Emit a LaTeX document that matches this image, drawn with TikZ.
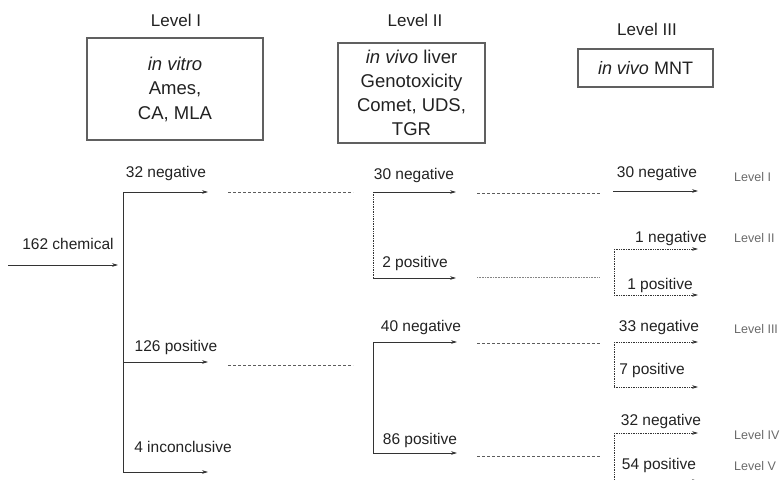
\documentclass[tikz,border=0pt]{standalone}
\usepackage{fontspec}
\setmainfont{Liberation Sans}
\usetikzlibrary{arrows.meta}
\definecolor{ink}{HTML}{222222}
\definecolor{lineink}{HTML}{333333}
\definecolor{soft}{HTML}{6A6A6A}
\tikzset{
  lbl/.style={inner sep=0pt, text=ink, font=\fontsize{15.5}{18}\selectfont},
  hdr/.style={inner sep=0pt, text=ink, font=\fontsize{17}{20}\selectfont},
  lvl/.style={inner sep=0pt, anchor=west, text=soft, font=\fontsize{12.5}{15}\selectfont},
  testbox/.style={draw=gray!75!black, line width=1.3pt, inner sep=0pt, align=center, text=ink},
  arr/.style={draw=lineink, line width=0.7pt, -{Stealth[length=6pt,width=3.6pt]}},
  arrdot/.style={arr, densely dotted},
  trunk/.style={draw=lineink, line width=0.7pt},
  trunkdot/.style={trunk, densely dotted},
  gap/.style={draw=lineink!80, line width=0.6pt, dash pattern=on 3pt off 2pt},
}
\begin{document}
\begin{tikzpicture}[x=1pt,y=-1pt]
\useasboundingbox (0,0) rectangle (781,479);

% headers and boxes
\node[hdr] (h1) at (176,20) {Level I};
\node[hdr] (h2) at (415,20) {Level II};
\node[hdr] (h3) at (647,29) {Level III};
\node[testbox, minimum width=176, minimum height=102, font=\fontsize{18.5}{24.5}\selectfont] (b1) at (175,89) {\textit{in vitro}\\Ames,\\CA, MLA};
\node[testbox, minimum width=147, minimum height=100, font=\fontsize{18.5}{24}\selectfont] (b2) at (411.5,93) {\textit{in vivo} liver\\Genotoxicity\\Comet, UDS,\\TGR};
\node[testbox, minimum width=135, minimum height=38, font=\fontsize{18}{22}\selectfont] (b3) at (645.5,68) {\textit{in vivo} MNT};

% input
\coordinate (in0) at (8,265);
\coordinate (in1) at (118,265);
\node[lbl] (n162) at (68,244) {162 chemical};
\draw[arr] (in0) -- (in1);

% level I split
\coordinate (t1) at (123,192);
\coordinate (t2) at (123,362);
\coordinate (t3) at (123,472);
\coordinate (e1) at (208,192);
\coordinate (e2) at (208,362);
\coordinate (e3) at (208,472);
\draw[trunk] (t1) -- (t3);
\draw[arr] (t1) -- (e1);
\draw[arr] (t2) -- (e2);
\draw[arr] (t3) -- (e3);
\node[lbl] (n32) at (166,173) {32 negative};
\node[lbl] (n126) at (176,347) {126 positive};
\node[lbl] (n4) at (183,447) {4 inconclusive};

\coordinate (g1a) at (228,192); \coordinate (g1b) at (353,192);
\coordinate (g2a) at (228,365); \coordinate (g2b) at (353,365);
\draw[gap] (g1a) -- (g1b);
\draw[gap] (g2a) -- (g2b);

% level II upper
\coordinate (u1) at (373,192);
\coordinate (u2) at (373,278);
\coordinate (ue1) at (456,192);
\coordinate (ue2) at (456,278);
\draw[trunkdot] (u1) -- (u2);
\draw[arr] (u1) -- (ue1);
\draw[arr] (u2) -- (ue2);
\node[lbl] (n30) at (414,175) {30 negative};
\node[lbl] (n2) at (415,263) {2 positive};

% level II lower
\coordinate (l1) at (373,342);
\coordinate (l2) at (373,453);
\coordinate (le1) at (457,342);
\coordinate (le2) at (457,453);
\draw[trunk] (l1) -- (l2);
\draw[arr] (l1) -- (le1);
\draw[arr] (l2) -- (le2);
\node[lbl] (n40) at (421,327) {40 negative};
\node[lbl] (n86) at (420,440) {86 positive};

\coordinate (g3a) at (477,193); \coordinate (g3b) at (600,193);
\coordinate (g4a) at (477,277); \coordinate (g4b) at (600,277);
\coordinate (g5a) at (477,343); \coordinate (g5b) at (600,343);
\coordinate (g6a) at (477,456); \coordinate (g6b) at (600,456);
\draw[gap] (g3a) -- (g3b);
\draw[gap, densely dotted, draw=lineink!60] (g4a) -- (g4b);
\draw[gap] (g5a) -- (g5b);
\draw[gap] (g6a) -- (g6b);

% level III
\coordinate (r0a) at (613,191); \coordinate (r0b) at (698,191);
\draw[arr] (r0a) -- (r0b);
\node[lbl] (m30) at (657,173) {30 negative};

\coordinate (r1) at (614,249); \coordinate (r2) at (614,295);
\coordinate (r1e) at (698,249); \coordinate (r2e) at (698,295);
\draw[trunkdot] (r1) -- (r2);
\draw[arrdot] (r1) -- (r1e);
\draw[arrdot] (r2) -- (r2e);
\node[lbl] (m1n) at (671,238) {1 negative};
\node[lbl] (m1p) at (660,285) {1 positive};

\coordinate (r3) at (614,342); \coordinate (r4) at (614,387);
\coordinate (r3e) at (698,342); \coordinate (r4e) at (698,387);
\draw[trunkdot] (r3) -- (r4);
\draw[arrdot] (r3) -- (r3e);
\draw[arrdot] (r4) -- (r4e);
\node[lbl] (m33) at (659,327) {33 negative};
\node[lbl] (m7) at (652,370) {7 positive};

\coordinate (r5) at (614,433); \coordinate (r6) at (614,481);
\coordinate (r5e) at (698,433); \coordinate (r6e) at (698,481);
\draw[trunkdot] (r5) -- (r6);
\draw[arrdot] (r5) -- (r5e);
\draw[arrdot] (r6) -- (r6e);
\node[lbl] (m32) at (661,421) {32 negative};
\node[lbl] (m54) at (659,465) {54 positive};

% right level labels
\node[lvl] (v1) at (734,177) {Level I};
\node[lvl] (v2) at (734,238) {Level II};
\node[lvl] (v3) at (734,329) {Level III};
\node[lvl] (v4) at (734,435) {Level IV};
\node[lvl] (v5) at (734,466) {Level V};
\end{tikzpicture}
\end{document}
